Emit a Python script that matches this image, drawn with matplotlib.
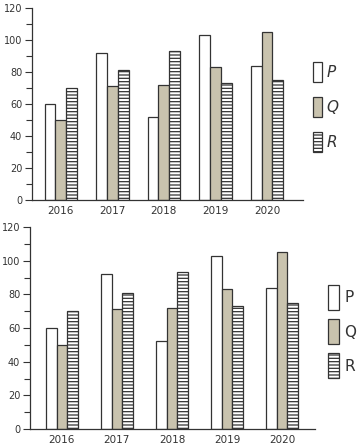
import matplotlib
matplotlib.use("Agg")
import matplotlib.pyplot as plt
import numpy as np
from matplotlib.patches import Patch, Rectangle
from matplotlib.legend_handler import HandlerPatch

years = ["2016", "2017", "2018", "2019", "2020"]
p_vals = [60, 92, 52, 103, 84]
q_vals = [50, 71, 72, 83, 105]
r_vals = [70, 81, 93, 73, 75]
series_names = ["P", "Q", "R"]
y_ticks = [0, 20, 40, 60, 80, 100, 120]

plt.rcParams['hatch.linewidth'] = 0.9
plt.rcParams['hatch.color'] = '#333333'

fig = plt.figure(figsize=(3.61, 4.47), dpi=100)
W, H = 361, 447


def make_handler(scale):
    def f(legend, orig_handle, xdescent, ydescent, width, height, fontsize):
        h = height * scale
        return Rectangle((-xdescent, -ydescent - (h - height) / 2), width, h)
    return HandlerPatch(patch_func=f)


def panel(rect, xlim, width, italic, leg_pos, hl, hh, ls, scale):
    ax = fig.add_axes(rect)
    x = np.arange(len(years))
    ec = '#333333'
    ax.bar(x - width, p_vals, width, color='white', edgecolor=ec, linewidth=0.9)
    ax.bar(x, q_vals, width, color='#c9c3ae', edgecolor=ec, linewidth=0.9)
    ax.bar(x + width, r_vals, width, color='white', edgecolor=ec, linewidth=0.9, hatch='-----')
    ax.set_xlim(*xlim)
    ax.set_ylim(0, 120)
    ax.set_yticks(y_ticks)
    ax.set_yticks(np.arange(0, 121, 10), minor=True)
    ax.set_xticks(x)
    ax.set_xticklabels(years)
    for s in ['top', 'right']:
        ax.spines[s].set_visible(False)
    for s in ['left', 'bottom']:
        ax.spines[s].set_color('#333333')
        ax.spines[s].set_linewidth(0.9)
    ax.tick_params(axis='y', which='major', length=5, width=0.8, labelsize=7, colors='#333333', pad=2)
    ax.tick_params(axis='y', which='minor', length=4, width=0.8, colors='#333333')
    ax.tick_params(axis='x', length=0, labelsize=7.5, colors='#333333', pad=4)
    handles = [
        Patch(facecolor='white', edgecolor=ec, linewidth=0.9),
        Patch(facecolor='#c9c3ae', edgecolor=ec, linewidth=0.9),
        Patch(facecolor='white', edgecolor=ec, linewidth=0.9, hatch='-----'),
    ]
    hmap = {hd: make_handler(scale) for hd in handles}
    leg = fig.legend(handles, series_names, loc='upper left', bbox_to_anchor=leg_pos,
                     frameon=False, handlelength=hl, handleheight=hh,
                     handletextpad=0.3, labelspacing=ls, borderpad=0, borderaxespad=0,
                     handler_map=hmap,
                     prop={'style': 'italic' if italic else 'normal', 'size': 11})
    for t in leg.get_texts():
        t.set_color('#333333')
    return ax


# top panel
panel([32 / W, (H - 200) / H, (303 - 32) / W, (200 - 8) / H], (-0.56, 4.70), 0.21, True,
      (313 / W, (H - 64) / H), 0.6, 1.2, 1.25, 1.3)
# bottom panel
panel([30 / W, (H - 429) / H, (315 - 30) / W, (429 - 227) / H], (-0.58, 4.60), 0.195, False,
      (328 / W, (H - 289) / H), 0.75, 1.3, 1.15, 1.5)

fig.savefig("out.png", dpi=100)
